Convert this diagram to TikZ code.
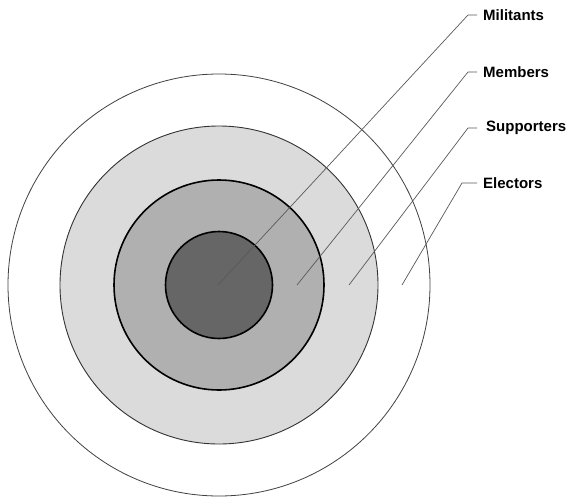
\documentclass[tikz,border=0pt]{standalone}
\usepackage{fontspec}
\setmainfont{Liberation Sans}
\usetikzlibrary{calc}
\begin{document}
\begin{tikzpicture}[x=1pt,y=-1pt,
  ring/.style={circle,inner sep=0pt,outer sep=0pt},
  leader/.style={draw=black!65,line width=0.7pt},
  lab/.style={anchor=west,inner sep=0pt,font=\bfseries\fontsize{15}{17}\selectfont}]
\useasboundingbox (0,0) rectangle (568,496);
\node[ring,draw=black!75,line width=0.8pt,fill=white,minimum size=422pt] (electors) at (219,285) {};
\node[ring,draw=black!80,line width=0.9pt,fill=black!14,minimum size=318pt] (supporters) at (219,285) {};
\node[ring,draw=black,line width=1.6pt,fill=black!31,minimum size=210pt] (members) at (219,285) {};
\node[ring,draw=black,line width=1.6pt,fill=black!60,minimum size=107pt] (militants) at (219,285) {};
% leader start points
\coordinate (pmil) at (218,285);
\coordinate (pmem) at (297,285);
\coordinate (psup) at (349,285);
\coordinate (pele) at (402,285);
% labels
\node[lab] (lmil) at (483,15) {Militants};
\node[lab] (lmem) at (483,72) {Members};
\node[lab] (lsup) at (486,128) {Supporters};
\node[lab] (lele) at (483,183) {Electors};
% ticks
\coordinate (tmil) at (468,15);
\coordinate (tmem) at (468,72);
\coordinate (tsup) at (468,128);
\coordinate (tele) at (462,183);
\draw[leader] (pmil) -- (tmil) -- ($(lmil.west)+(-6,0)$);
\draw[leader] (pmem) -- (tmem) -- ($(lmem.west)+(-6,0)$);
\draw[leader] (psup) -- (tsup) -- ($(lsup.west)+(-9,0)$);
\draw[leader] (pele) -- (tele) -- ($(lele.west)+(-6,0)$);
\end{tikzpicture}
\end{document}
